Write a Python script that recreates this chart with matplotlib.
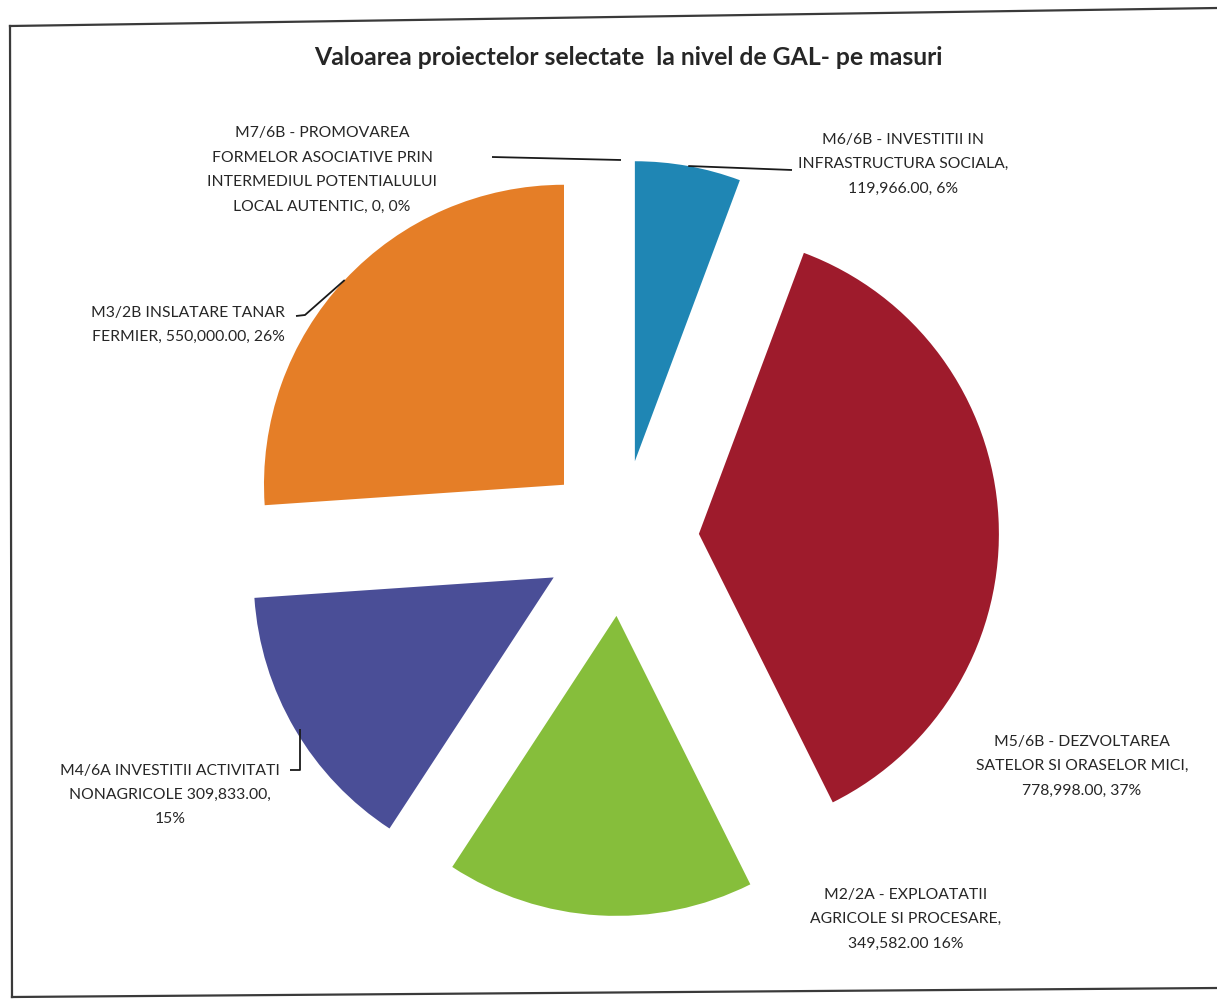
import numpy as np
import matplotlib
matplotlib.use("Agg")
import matplotlib.pyplot as plt
from matplotlib.lines import Line2D

# ---- data ----
title = "Valoarea proiectelor selectate  la nivel de GAL- pe masuri"
measures = [
    "M6/6B - INVESTITII IN\nINFRASTRUCTURA SOCIALA,",
    "M5/6B - DEZVOLTAREA\nSATELOR SI ORASELOR MICI,",
    "M2/2A - EXPLOATATII\nAGRICOLE SI PROCESARE,",
    "M4/6A INVESTITII ACTIVITATI\nNONAGRICOLE",
    "M3/2B INSLATARE TANAR\nFERMIER,",
    "M7/6B - PROMOVAREA\nFORMELOR ASOCIATIVE PRIN\nINTERMEDIUL POTENTIALULUI\nLOCAL AUTENTIC,",
]
values = [119966.00, 778998.00, 349582.00, 309833.00, 550000.00, 0]
percents = [6, 37, 16, 15, 26, 0]
colors = ["#1F86B4", "#9E1B2C", "#86BE3B", "#4A4E97", "#E57E27", "#7F7F7F"]

W, H = 1217, 1003
fig = plt.figure(figsize=(W / 100, H / 100), dpi=100)
ax = fig.add_axes([0, 0, 1, 1])
ax.set_xlim(0, W)
ax.set_ylim(0, H)
ax.set_aspect("equal")
ax.axis("off")

def Y(y):
    return H - y

FONT = ["Lato", "DejaVu Sans"]
TC = "#262626"

# scanned-page border
for (x0, y0, x1, y1) in [(10, 27, 1217, 9), (10, 27, 12, 998), (12, 998, 1217, 989)]:
    fig.add_artist(Line2D([x0 / W, x1 / W], [Y(y0) / H, Y(y1) / H],
                          color="#3a3a3a", lw=1.6))

cx, cy, R = 621, 539, 300
wedges, _ = ax.pie(values, colors=colors, startangle=90, counterclock=False,
                   explode=[0.26 * R] * len(values), radius=R, center=(cx, Y(cy)),
                   wedgeprops=dict(linewidth=0), normalize=True)
ax.set_xlim(0, W)
ax.set_ylim(0, H)

def anchor(w):
    t = np.deg2rad((w.theta1 + w.theta2) / 2)
    return w.center[0] + w.r * np.cos(t), w.center[1] + w.r * np.sin(t)

def fmt(i):
    v = f"{values[i]:,.2f}" if values[i] else "0"
    if i == 2:
        return f"{measures[i]}\n{v} {percents[i]}%"
    if i == 3:
        return f"{measures[i]} {v},\n{percents[i]}%"
    if i == 4:
        return f"{measures[i]} {v}, {percents[i]}%"
    if i == 5:
        return f"{measures[i]} {v}, {percents[i]}%"
    return f"{measures[i]}\n{v}, {percents[i]}%"

label_pos = [(903, 164), (1082, 766), (906, 919), (170, 795), (188, 325), (322, 170)]
for i, (lx, ly) in enumerate(label_pos):
    ax.text(lx, Y(ly), fmt(i), ha="center", va="center", fontsize=11.3,
            family=FONT, color=TC, linespacing=1.95)

# leader lines (elbow points in image px)
lead = {
    0: [(792, 171)],
    5: [(492, 158)],
    4: [(305, 316), (296, 317)],
    3: [(300, 771), (290, 771)],
}
for i, pts in lead.items():
    ax_, ay_ = anchor(wedges[i])
    xs = [ax_] + [p[0] for p in pts]
    ys = [ay_] + [Y(p[1]) for p in pts]
    if i == 3:
        xs[0] = pts[0][0]
    ax.plot(xs, ys, color="#1a1a1a", lw=1.3, solid_capstyle="butt")

ax.text(628, Y(57), title, ha="center", va="center", fontsize=17.8,
        fontweight="bold", family=FONT, color=TC)

fig.savefig("out.png", dpi=100, facecolor="white")
